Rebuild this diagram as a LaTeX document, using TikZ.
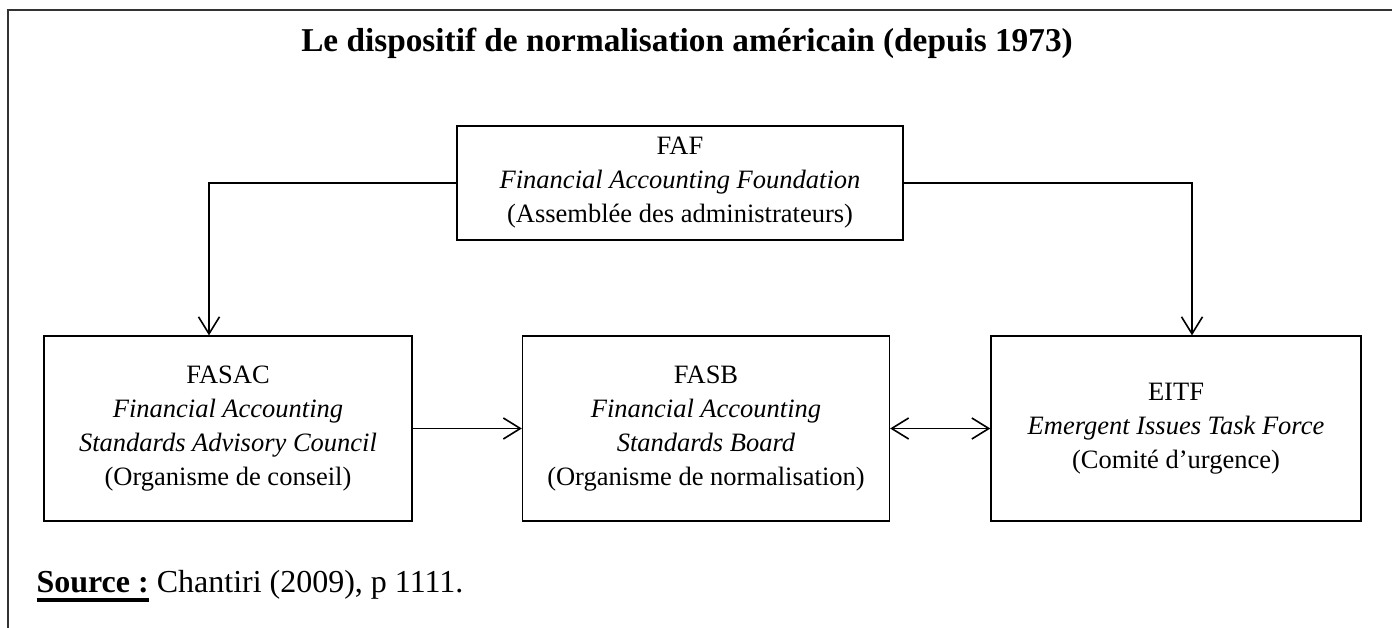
\documentclass[tikz,border=0pt]{standalone}
\usepackage{fontspec}
\setmainfont{Liberation Serif}
\usetikzlibrary{arrows.meta, positioning, calc}
\newcommand{\ulthick}[1]{\vtop{\hbox{#1}\kern6pt\hrule height 3.5pt}}

\begin{document}
\begin{tikzpicture}[x=1pt, y=-1pt,
    block/.style={rectangle, draw=black, line width=1.3pt, align=center, inner sep=0pt, font=\fontsize{26.5}{34}\selectfont},
    arrow/.style={-{Straight Barb[length=17pt, width=21pt]}, line width=1.6pt},
    dblarrow/.style={{Straight Barb[length=17pt, width=21pt]}-{Straight Barb[length=17pt, width=21pt]}, line width=1.6pt}
]
\useasboundingbox (0,0) rectangle (1392,628);

% Frame
\draw[line width=1.3pt, black!80] (8,628) -- (8,10) -- (1392,10);

% Title
\node[anchor=base, font=\fontsize{33.3}{38}\selectfont\bfseries] (title) at (687,52) {Le dispositif de normalisation américain (depuis 1973)};

% Foundation
\node[block, minimum width=446pt, minimum height=114pt] (faf) at (680,183) {FAF\\ \textit{Financial Accounting Foundation}\\ (Assemblée des administrateurs)};

% Bottom row
\node[block, minimum width=368pt, minimum height=185pt] (fasac) at (228,428.5) {FASAC\\ \textit{Financial Accounting}\\ \textit{Standards Advisory Council}\\ (Organisme de conseil)};
\node[block, minimum width=367pt, minimum height=185pt] (fasb) at (706,428.5) {FASB\\ \textit{Financial Accounting}\\ \textit{Standards Board}\\ (Organisme de normalisation)};
\node[block, minimum width=370pt, minimum height=185pt] (eitf) at (1176,428.5) {EITF\\ \textit{Emergent Issues Task Force}\\ (Comité d’urgence)};

% Arrows
\coordinate (lturn) at (209,183);
\coordinate (rturn) at (1192,183);
\draw[arrow] (faf.west) -| (fasac.north -| lturn);
\draw[arrow] (faf.east) -| (eitf.north -| rturn);
\draw[arrow] (fasac.east) -- (fasb.west);
\draw[dblarrow] (fasb.east) -- (eitf.west);

% Source
\node[anchor=base west, font=\fontsize{32}{36}\selectfont] (src) at (33,592) {\ulthick{\textbf{Source :}} Chantiri (2009), p 1111.};
\end{tikzpicture}
\end{document}
